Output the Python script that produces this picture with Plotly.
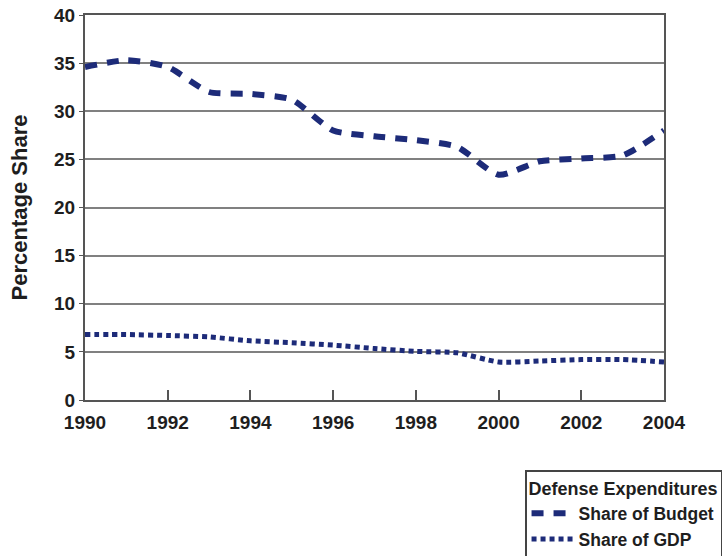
import plotly.graph_objects as go

years = list(range(1990, 2005))
share_of_budget = [34.6, 35.3, 34.6, 32.0, 31.8, 31.2, 28.0, 27.4, 27.0, 26.3, 23.4, 24.8, 25.1, 25.4, 28.0]
share_of_gdp = [6.8, 6.8, 6.7, 6.55, 6.15, 5.95, 5.7, 5.35, 5.05, 4.9, 3.95, 4.05, 4.2, 4.2, 3.95]

navy = "#1d2b79"
text_color = "#1e1e1e"
font_family = "Arial, Liberation Sans, sans-serif"

fig = go.Figure()
fig.add_trace(go.Scatter(
    x=years, y=share_of_budget, mode="lines", name="<b>Share of Budget</b>",
    line=dict(color=navy, width=6, dash="12px,10px", shape="spline", smoothing=0.6),
))
fig.add_trace(go.Scatter(
    x=years, y=share_of_gdp, mode="lines", name="<b>Share of GDP</b>",
    line=dict(color=navy, width=5, dash="5px,4px", shape="spline", smoothing=0.6),
))

tick_font = dict(size=19, family=font_family, color=text_color, weight="bold")

fig.update_layout(
    width=724, height=556,
    margin=dict(l=85, r=60, t=15, b=156, autoexpand=False),
    paper_bgcolor="white", plot_bgcolor="white",
    font=dict(family=font_family, color=text_color),
    legend=dict(
        x=0.76, y=-0.183, xanchor="left", yanchor="top",
        bordercolor="#444444", borderwidth=1.5, bgcolor="white",
        title=dict(text="<b>Defense Expenditures</b>", font=dict(size=18, color=text_color)),
        font=dict(size=17.5, color=text_color),
        itemwidth=42, tracegroupgap=0,
    ),
    xaxis=dict(
        range=[1990, 2004], tickmode="linear", tick0=1990, dtick=2,
        showgrid=False, zeroline=False,
        showline=True, linecolor="#555555", linewidth=2, mirror=True,
        ticks="inside", ticklen=10, tickcolor="#555555", tickwidth=1.5,
        tickfont=tick_font, ticklabelstandoff=4,
    ),
    yaxis=dict(
        range=[0, 40], tickmode="linear", tick0=0, dtick=5,
        showgrid=True, gridcolor="#808080", gridwidth=1.5, zeroline=False,
        showline=True, linecolor="#555555", linewidth=2, mirror=True,
        ticks="outside", ticklen=4, tickcolor="#555555",
        tickfont=tick_font,
        title=dict(text="<b>Percentage Share</b>", font=dict(size=22, color=text_color), standoff=20),
    ),
)

fig.write_html("out.html")
